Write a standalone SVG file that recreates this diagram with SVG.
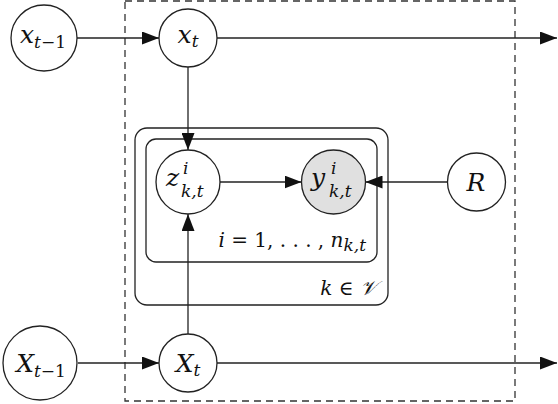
<svg xmlns="http://www.w3.org/2000/svg" width="558" height="404" viewBox="0 0 558 404">
<style>
.n{fill:#fff;stroke:#222;stroke-width:1.3}
.obs{fill:#e0e0e0}
.plate{fill:none;stroke:#222;stroke-width:1.3}
.frame{fill:none;stroke:#333;stroke-width:1.3;stroke-dasharray:7 5}
.e{fill:none;stroke:#222;stroke-width:1.3}
.a{marker-end:url(#ah)}
text{font-family:"DejaVu Serif",serif;font-style:italic;fill:#111}
.m{font-size:25px}
.s{font-size:17px}
.up{font-style:normal}
.lab{font-size:20px}
</style>
<defs>
<marker id="ah" markerUnits="userSpaceOnUse" markerWidth="17" markerHeight="13" refX="17" refY="6.5" orient="auto">
<path d="M0,0 L17,6.5 L0,13 z" fill="#111"/>
</marker>
</defs>
<rect class="frame" x="125" y="1" width="390" height="400"/>
<g id="plate-k">
<rect class="plate" x="135" y="128" width="253" height="177" rx="12"/>
<text class="lab" x="377" y="295" text-anchor="end">k <tspan class="up">∈</tspan> 𝒱</text>
</g>
<g id="plate-i">
<rect class="plate" x="146" y="139" width="231" height="123" rx="10"/>
<text class="lab" x="366" y="247" text-anchor="end">i <tspan class="up">= 1, . . . ,</tspan> n<tspan class="s" dy="4">k,t</tspan></text>
</g>
<g id="connectors">
<line class="e a" x1="77" y1="38" x2="159" y2="38"/>
<line class="e a" x1="217" y1="38" x2="557" y2="38"/>
<line class="e a" x1="78" y1="363" x2="159" y2="363"/>
<line class="e a" x1="217" y1="363" x2="557" y2="363"/>
<line class="e a" x1="188" y1="67" x2="188" y2="150"/>
<line class="e a" x1="188" y1="334" x2="188" y2="214"/>
<line class="e a" x1="220" y1="182" x2="301.5" y2="182"/>
<line class="e a" x1="447.5" y1="182" x2="365.5" y2="182"/>
</g>
<g id="node-x-prev">
<circle class="n" cx="44" cy="38" r="33"/>
<text class="m" x="43" y="43" text-anchor="middle">x<tspan class="s" dy="5">t</tspan><tspan class="s up">−1</tspan></text>
</g>
<g id="node-x">
<circle class="n" cx="188" cy="38" r="29"/>
<text class="m" x="188" y="43" text-anchor="middle">x<tspan class="s" dy="4">t</tspan></text>
</g>
<g id="node-X-prev">
<circle class="n" cx="40" cy="363" r="37"/>
<text class="m" x="41" y="372" text-anchor="middle">X<tspan class="s" dy="5">t</tspan><tspan class="s up">−1</tspan></text>
</g>
<g id="node-X">
<circle class="n" cx="188" cy="363" r="29"/>
<text class="m" x="188" y="372" text-anchor="middle">X<tspan class="s" dy="4">t</tspan></text>
</g>
<g id="node-z">
<circle class="n" cx="188" cy="182" r="32"/>
<text class="m" x="166" y="186">z</text>
<text class="s" x="183" y="174">i</text>
<text class="s" x="181" y="197">k,t</text>
</g>
<g id="node-y">
<circle class="n obs" cx="333.5" cy="182" r="32"/>
<text class="m" x="311" y="186">y</text>
<text class="s" x="331" y="174">i</text>
<text class="s" x="329" y="197">k,t</text>
</g>
<g id="node-R">
<circle class="n" cx="476.5" cy="182" r="29"/>
<text class="m" x="476" y="191" text-anchor="middle">R</text>
</g>
</svg>
